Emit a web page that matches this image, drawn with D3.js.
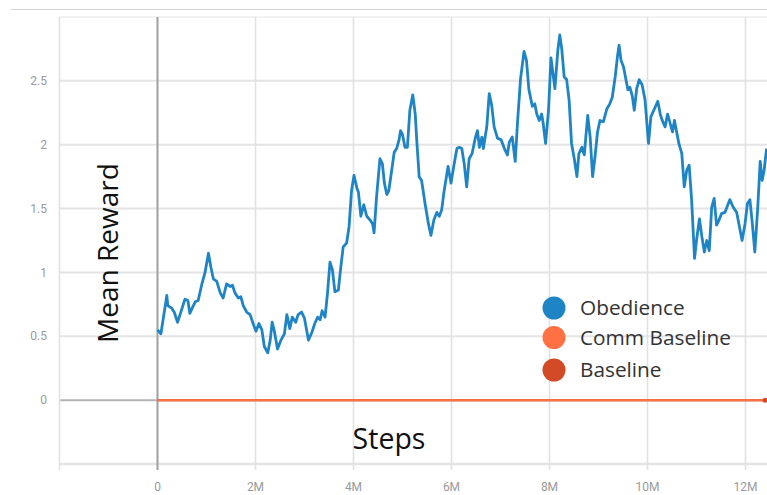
<!DOCTYPE html>
<html>
<head>
<meta charset="utf-8">
<script src="https://cdn.jsdelivr.net/npm/d3@7"></script>
<style>
  html, body { margin: 0; padding: 0; background: #fff; overflow: hidden; }
  svg { display: block; }
</style>
</head>
<body>
<svg id="chart" width="767" height="495"></svg>
<script>
// Training steps, in millions
const stepsM = [
  0.00, 0.07, 0.19, 0.21, 0.29, 0.34, 0.41, 0.46, 0.56, 0.62, 0.66, 0.72, 0.77, 0.83, 0.90, 0.97,
  1.04, 1.09, 1.14, 1.21, 1.28, 1.34, 1.41, 1.48, 1.53, 1.58, 1.65, 1.70, 1.75, 1.82, 1.89, 1.96,
  2.01, 2.07, 2.13, 2.18, 2.25, 2.30, 2.34, 2.38, 2.45, 2.52, 2.59, 2.64, 2.70, 2.75, 2.82, 2.87,
  2.94, 3.00, 3.08, 3.15, 3.21, 3.27, 3.32, 3.36, 3.42, 3.47, 3.52, 3.57, 3.62, 3.69, 3.74, 3.79,
  3.86, 3.91, 3.96, 4.01, 4.07, 4.10, 4.15, 4.21, 4.27, 4.34, 4.39, 4.42, 4.47, 4.54, 4.59, 4.63,
  4.68, 4.72, 4.78, 4.83, 4.88, 4.93, 4.96, 5.00, 5.05, 5.10, 5.15, 5.21, 5.26, 5.29, 5.34, 5.39,
  5.46, 5.53, 5.58, 5.64, 5.70, 5.75, 5.80, 5.85, 5.93, 5.99, 6.05, 6.11, 6.16, 6.21, 6.26, 6.31,
  6.36, 6.42, 6.49, 6.53, 6.57, 6.62, 6.65, 6.72, 6.77, 6.82, 6.87, 6.94, 7.01, 7.08, 7.14, 7.18,
  7.24, 7.30, 7.35, 7.41, 7.48, 7.53, 7.58, 7.65, 7.70, 7.74, 7.79, 7.84, 7.87, 7.92, 7.98, 8.03,
  8.08, 8.11, 8.17, 8.21, 8.25, 8.30, 8.35, 8.40, 8.45, 8.51, 8.56, 8.60, 8.66, 8.71, 8.78, 8.83,
  8.88, 8.93, 8.98, 9.03, 9.10, 9.17, 9.23, 9.28, 9.34, 9.39, 9.42, 9.46, 9.51, 9.56, 9.60, 9.64,
  9.69, 9.73, 9.78, 9.83, 9.89, 9.95, 10.02, 10.07, 10.14, 10.21, 10.26, 10.30, 10.36, 10.41, 10.46, 10.51,
  10.55, 10.60, 10.64, 10.70, 10.75, 10.80, 10.85, 10.90, 10.96, 11.00, 11.06, 11.11, 11.16, 11.21, 11.26, 11.31,
  11.36, 11.41, 11.46, 11.51, 11.58, 11.64, 11.68, 11.75, 11.82, 11.89, 11.93, 11.99, 12.04, 12.09, 12.14, 12.19,
  12.25, 12.30, 12.34, 12.38, 12.43
];

// Mean reward of the Obedience agent at each step
const obedience = [
  0.55, 0.52, 0.82, 0.74, 0.72, 0.69, 0.61, 0.67, 0.79, 0.78, 0.68, 0.73, 0.77, 0.78, 0.90, 1.00,
  1.15, 1.04, 0.95, 0.93, 0.84, 0.80, 0.91, 0.89, 0.90, 0.84, 0.80, 0.81, 0.74, 0.69, 0.67, 0.59,
  0.54, 0.60, 0.55, 0.42, 0.37, 0.47, 0.61, 0.55, 0.40, 0.47, 0.52, 0.67, 0.56, 0.65, 0.61, 0.67,
  0.69, 0.64, 0.47, 0.53, 0.60, 0.65, 0.63, 0.70, 0.65, 0.84, 1.08, 1.02, 0.85, 0.86, 1.04, 1.20,
  1.23, 1.36, 1.64, 1.76, 1.66, 1.63, 1.44, 1.53, 1.44, 1.41, 1.38, 1.31, 1.59, 1.89, 1.85, 1.70,
  1.61, 1.64, 1.80, 1.94, 1.97, 2.04, 2.11, 2.08, 1.98, 1.98, 2.27, 2.39, 2.24, 2.04, 1.75, 1.72,
  1.54, 1.38, 1.29, 1.41, 1.47, 1.44, 1.49, 1.64, 1.83, 1.70, 1.84, 1.97, 1.98, 1.97, 1.85, 1.67,
  1.89, 1.93, 2.06, 2.11, 1.98, 2.06, 1.97, 2.14, 2.40, 2.31, 2.14, 2.05, 2.04, 1.97, 1.92, 2.02,
  2.06, 1.87, 2.19, 2.52, 2.73, 2.66, 2.43, 2.30, 2.32, 2.24, 2.19, 2.24, 2.17, 2.01, 2.27, 2.68,
  2.53, 2.44, 2.74, 2.86, 2.75, 2.53, 2.51, 2.35, 2.01, 1.88, 1.75, 1.93, 1.98, 1.92, 2.23, 2.06,
  1.75, 1.91, 2.10, 2.19, 2.18, 2.28, 2.32, 2.37, 2.53, 2.70, 2.78, 2.66, 2.61, 2.51, 2.43, 2.45,
  2.38, 2.27, 2.44, 2.51, 2.47, 2.35, 2.01, 2.22, 2.28, 2.34, 2.24, 2.19, 2.14, 2.24, 2.17, 2.10,
  2.19, 2.09, 2.01, 1.93, 1.67, 1.80, 1.84, 1.57, 1.11, 1.25, 1.42, 1.28, 1.16, 1.25, 1.17, 1.51,
  1.58, 1.37, 1.41, 1.46, 1.47, 1.53, 1.57, 1.51, 1.47, 1.33, 1.25, 1.38, 1.54, 1.57, 1.38, 1.16,
  1.51, 1.87, 1.72, 1.80, 1.97
];

// Both baselines stay flat at zero over the run
const baselineSteps = [0, 12.4];
const commBaseline = [0, 0];
const baseline = [0, 0];

const seriesNames = ["Obedience", "Comm Baseline", "Baseline"];
const seriesColors = ["#1f84c6", "#ff7043", "#d34a26"];

const xTicks = [0, 2, 4, 6, 8, 10, 12];
const xGrid = [-2, 0, 2, 4, 6, 8, 10, 12];
const yTicks = [0, 0.5, 1, 1.5, 2, 2.5];
const yGrid = [-0.5, 0, 0.5, 1, 1.5, 2, 2.5];

const W = 767, H = 495;
const svg = d3.select("#chart");

const x = d3.scaleLinear().domain([-2, 12]).range([59.5, 745.5]);
const y = d3.scaleLinear().domain([-0.5, 3]).range([464, 17]);
const plotTop = y(3), plotBottom = y(-0.5), plotLeft = x(-2);

// thin frame line across the top of the card
svg.append("line")
  .attr("x1", 11).attr("x2", W).attr("y1", 9.5).attr("y2", 9.5)
  .attr("stroke", "#d4d4d4").attr("stroke-width", 1);

// faint top edge of the plot area
svg.append("line")
  .attr("x1", plotLeft).attr("x2", W).attr("y1", plotTop).attr("y2", plotTop)
  .attr("stroke", "#f2f2f2").attr("stroke-width", 2);

// horizontal grid
svg.append("g").selectAll("line").data(yGrid).join("line")
  .attr("x1", plotLeft).attr("x2", W)
  .attr("y1", d => y(d)).attr("y2", d => y(d))
  .attr("stroke", d => d === 0 ? "#b4b4b4" : "#e4e4e4")
  .attr("stroke-width", d => d === -0.5 ? 2.5 : 2);

// vertical grid, running a little past the bottom edge as ticks
svg.append("g").selectAll("line").data(xGrid).join("line")
  .attr("x1", d => x(d)).attr("x2", d => x(d))
  .attr("y1", plotTop).attr("y2", plotBottom + 6)
  .attr("stroke", d => d === 0 ? "#a0a0a0" : "#e2e2e2")
  .attr("stroke-width", d => d === 0 ? 2 : 1.6);

// tick labels
const tickFont = "Roboto, 'Liberation Sans', sans-serif";
svg.append("g").selectAll("text").data(yTicks).join("text")
  .attr("x", 47).attr("y", d => y(d))
  .attr("dy", "0.35em")
  .attr("text-anchor", "end")
  .attr("font-family", tickFont).attr("font-size", 12)
  .attr("fill", "#9a9a9a")
  .text(d => d3.format("~g")(d));

svg.append("g").selectAll("text").data(xTicks).join("text")
  .attr("x", d => x(d)).attr("y", 487)
  .attr("dy", "0.35em")
  .attr("text-anchor", "middle")
  .attr("font-family", tickFont).attr("font-size", 12)
  .attr("fill", "#9a9a9a")
  .text(d => d === 0 ? "0" : d + "M");

// axis titles
const titleFont = "'Open Sans', 'DejaVu Sans', sans-serif";
svg.append("text")
  .attr("transform", `translate(118,253) rotate(-90)`)
  .attr("text-anchor", "middle")
  .attr("font-family", titleFont).attr("font-size", 28)
  .attr("fill", "#111")
  .text("Mean Reward");

svg.append("text")
  .attr("x", 389).attr("y", 449)
  .attr("text-anchor", "middle")
  .attr("font-family", titleFont).attr("font-size", 28.5)
  .attr("fill", "#111")
  .text("Steps");

// series lines
const line = d3.line().x(d => x(d[0])).y(d => y(d[1]));

const baseData = d3.zip(baselineSteps, baseline);
const commData = d3.zip(baselineSteps, commBaseline);
const obData = d3.zip(stepsM, obedience);

svg.append("path").datum(baseData)
  .attr("fill", "none").attr("stroke", seriesColors[2]).attr("stroke-width", 2)
  .attr("d", line);
svg.append("path").datum(commData)
  .attr("fill", "none").attr("stroke", seriesColors[1]).attr("stroke-width", 2)
  .attr("d", line);
svg.append("circle")
  .attr("cx", x(baselineSteps[1])).attr("cy", y(baseline[1]))
  .attr("r", 2.5).attr("fill", seriesColors[2]);

svg.append("path").datum(obData)
  .attr("fill", "none").attr("stroke", seriesColors[0]).attr("stroke-width", 2.8)
  .attr("stroke-linejoin", "round")
  .attr("d", line);

// legend
const legend = svg.append("g").attr("transform", "translate(554,308)");
const legendRows = [0, 29.5, 62];
const items = legend.selectAll("g").data(seriesNames).join("g")
  .attr("transform", (d, i) => `translate(0,${legendRows[i]})`);
items.append("circle").attr("r", 11.5).attr("fill", (d, i) => seriesColors[i]);
items.append("text")
  .attr("x", 26).attr("dy", "0.35em")
  .attr("font-family", titleFont).attr("font-size", 20.8)
  .attr("fill", "#333")
  .text(d => d);
</script>
</body>
</html>
